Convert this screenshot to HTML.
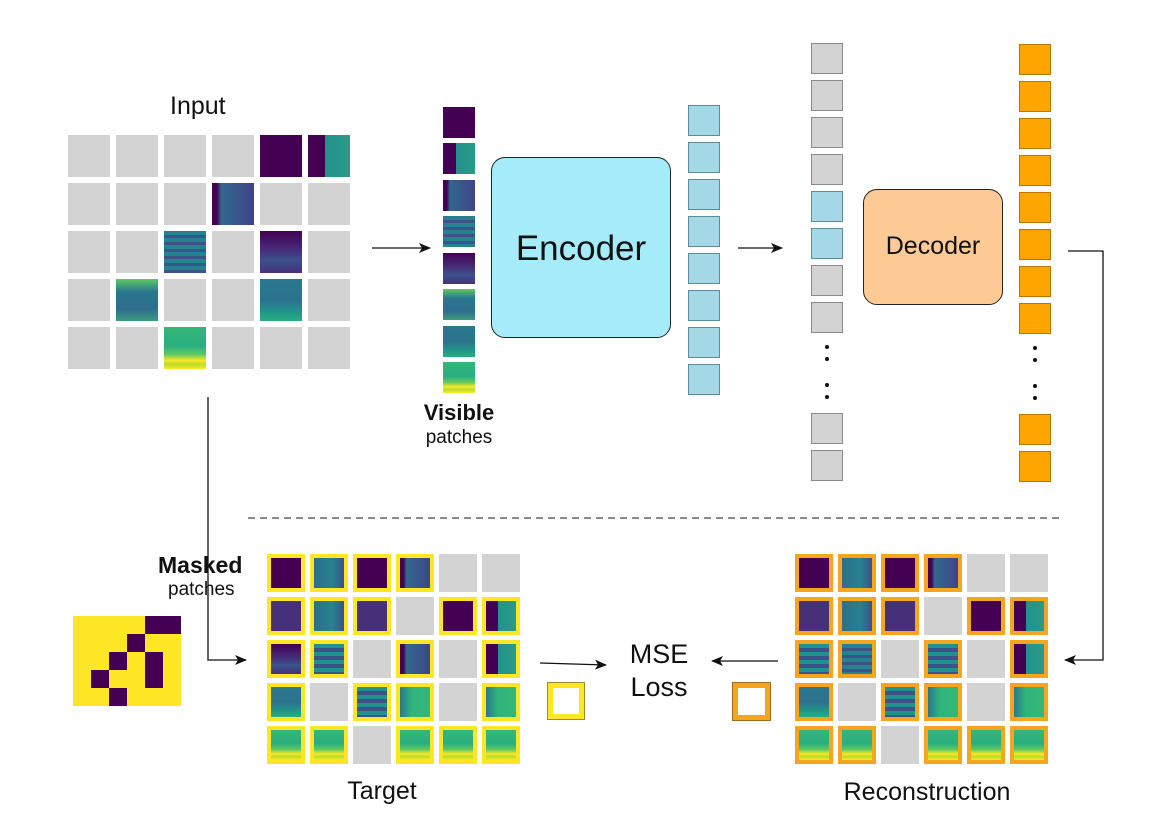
<!DOCTYPE html>
<html><head><meta charset="utf-8"><style>
body{margin:0;background:#fff;width:1168px;height:836px;position:relative;overflow:hidden;font-family:"Liberation Sans",Arial,sans-serif;color:#111}
.a{position:absolute;box-sizing:border-box}
.g{background:#d3d3d3}
.p1{background:#440154}
.p2{background:linear-gradient(90deg,#440154 0 40%,#23928b 40%,#2a9a88)}
.p3{background:linear-gradient(90deg,#440154 0 12%,#31688e 22%,#3b528b 70%,#414487)}
.p4{background:repeating-linear-gradient(#26828e 0 4px,#3b528b 4px 7px)}
.p5{background:linear-gradient(#440154,#46327e 50%,#3b528b 70%,#46307a)}
.p6{background:linear-gradient(#5ec962,#2a788e 30%,#2f6c8e 70%,#3a9c7f)}
.p7{background:linear-gradient(#2a788e,#2c728e 50%,#21918c 75%,#27ad81)}
.p8{background:linear-gradient(#35b779,#28ae80 45%,#5ec962 65%,#fde725 80%,#b5de2b 88%,#fde725)}
.pb{background:#46307a}
.pt{background:linear-gradient(90deg,#2f6c8e,#26828e 60%,#3b528b)}
.ps{background:repeating-linear-gradient(#21918c 0 4px,#3b528b 4px 8px)}
.pg{background:linear-gradient(90deg,#2a788e,#2fb47c 40%,#35b779)}
.y{border:4px solid #fde725}
.o{border:4px solid #f5a51e}
.c{width:42px;height:42px}
.t{width:38px;height:38px}
.v{width:32px;height:31px;left:443px}
.e{width:32px;height:31px;left:688px;background:#a5d8e6;border:1px solid #5b8c9a}
.d{width:32px;height:31px;left:811px;background:#d3d3d3;border:1px solid #8a8a8a}
.db{background:#a5d8e6;border-color:#5b8c9a}
.r{width:32px;height:31px;left:1019px;background:#ffa500;border:1px solid #b87800}
.dot{position:absolute;width:4px;height:4px;border-radius:2px;background:#111}
.txt{position:absolute;white-space:nowrap}
</style></head><body>

<!-- Input -->
<div class="txt" style="left:170px;top:92px;font-size:25px">Input</div>
<div class="a c g" style="left:68px;top:135px"></div><div class="a c g" style="left:116px;top:135px"></div><div class="a c g" style="left:164px;top:135px"></div><div class="a c g" style="left:212px;top:135px"></div><div class="a c p1" style="left:260px;top:135px"></div><div class="a c p2" style="left:308px;top:135px"></div>
<div class="a c g" style="left:68px;top:183px"></div><div class="a c g" style="left:116px;top:183px"></div><div class="a c g" style="left:164px;top:183px"></div><div class="a c p3" style="left:212px;top:183px"></div><div class="a c g" style="left:260px;top:183px"></div><div class="a c g" style="left:308px;top:183px"></div>
<div class="a c g" style="left:68px;top:231px"></div><div class="a c g" style="left:116px;top:231px"></div><div class="a c p4" style="left:164px;top:231px"></div><div class="a c g" style="left:212px;top:231px"></div><div class="a c p5" style="left:260px;top:231px"></div><div class="a c g" style="left:308px;top:231px"></div>
<div class="a c g" style="left:68px;top:279px"></div><div class="a c p6" style="left:116px;top:279px"></div><div class="a c g" style="left:164px;top:279px"></div><div class="a c g" style="left:212px;top:279px"></div><div class="a c p7" style="left:260px;top:279px"></div><div class="a c g" style="left:308px;top:279px"></div>
<div class="a c g" style="left:68px;top:327px"></div><div class="a c g" style="left:116px;top:327px"></div><div class="a c p8" style="left:164px;top:327px"></div><div class="a c g" style="left:212px;top:327px"></div><div class="a c g" style="left:260px;top:327px"></div><div class="a c g" style="left:308px;top:327px"></div>

<!-- Visible patches -->
<div class="a v p1" style="top:107px"></div>
<div class="a v p2" style="top:143px"></div>
<div class="a v p3" style="top:180px"></div>
<div class="a v p4" style="top:216px"></div>
<div class="a v p5" style="top:253px"></div>
<div class="a v p6" style="top:289px"></div>
<div class="a v p7" style="top:326px"></div>
<div class="a v p8" style="top:362px"></div>
<div class="txt" style="left:459px;top:400px;transform:translateX(-50%);font-size:22px;font-weight:bold">Visible</div>
<div class="txt" style="left:459px;top:427px;transform:translateX(-50%);font-size:19px">patches</div>

<!-- Encoder -->
<div class="a" style="left:491px;top:157px;width:180px;height:181px;background:#a6ebf9;border:1.5px solid #222;border-radius:14px"></div>
<div class="txt" style="left:581px;top:229px;transform:translateX(-50%);font-size:35px">Encoder</div>
<div class="a e" style="top:105px"></div><div class="a e" style="top:142px"></div><div class="a e" style="top:179px"></div><div class="a e" style="top:216px"></div><div class="a e" style="top:253px"></div><div class="a e" style="top:290px"></div><div class="a e" style="top:327px"></div><div class="a e" style="top:364px"></div>

<!-- Decoder tokens -->
<div class="a d" style="top:43px"></div><div class="a d" style="top:80px"></div><div class="a d" style="top:117px"></div><div class="a d" style="top:154px"></div><div class="a d db" style="top:191px"></div><div class="a d db" style="top:228px"></div><div class="a d" style="top:265px"></div><div class="a d" style="top:302px"></div><div class="a d" style="top:413px"></div><div class="a d" style="top:450px"></div>
<div class="dot" style="left:825px;top:345px"></div><div class="dot" style="left:825px;top:357px"></div><div class="dot" style="left:825px;top:383px"></div><div class="dot" style="left:825px;top:395px"></div>
<div class="a" style="left:863px;top:189px;width:140px;height:116px;background:#fdc994;border:1.5px solid #222;border-radius:14px"></div>
<div class="txt" style="left:933px;top:232px;transform:translateX(-50%);font-size:25px">Decoder</div>
<div class="a r" style="top:44px"></div><div class="a r" style="top:81px"></div><div class="a r" style="top:118px"></div><div class="a r" style="top:155px"></div><div class="a r" style="top:192px"></div><div class="a r" style="top:229px"></div><div class="a r" style="top:266px"></div><div class="a r" style="top:303px"></div><div class="a r" style="top:414px"></div><div class="a r" style="top:451px"></div>
<div class="dot" style="left:1033px;top:346px"></div><div class="dot" style="left:1033px;top:358px"></div><div class="dot" style="left:1033px;top:384px"></div><div class="dot" style="left:1033px;top:396px"></div>

<!-- Lines -->
<svg class="a" style="left:0;top:0" width="1168" height="836">
<defs><marker id="ar" markerWidth="12" markerHeight="10" refX="11" refY="5" orient="auto" markerUnits="userSpaceOnUse"><path d="M0,0 L12,5 L0,10 L3,5 z" fill="#111"/></marker></defs>
<g stroke="#111" stroke-width="1.3" fill="none">
<line x1="372" y1="248" x2="430" y2="248" marker-end="url(#ar)"/>
<line x1="738" y1="248" x2="782" y2="248" marker-end="url(#ar)"/>
<polyline points="1068,251 1103,251 1103,660 1065,660" marker-end="url(#ar)"/>
<polyline points="208,397 208,660 246,660" marker-end="url(#ar)"/>
<line x1="540" y1="663" x2="606" y2="665" marker-end="url(#ar)"/>
<line x1="778" y1="661" x2="712" y2="661" marker-end="url(#ar)"/>
<line x1="248" y1="518" x2="1062" y2="518" stroke-dasharray="7,5" stroke="#444"/>
</g></svg>

<!-- Masked -->
<div class="txt" style="left:158px;top:552px;font-size:23px;font-weight:bold">Masked</div>
<div class="txt" style="left:168px;top:579px;font-size:19px">patches</div>
<svg class="a" style="left:73px;top:616px" width="108" height="90">
<rect width="108" height="90" fill="#fde725"/>
<g fill="#440154">
<rect x="72" y="0" width="36" height="18"/><rect x="54" y="18" width="18" height="18"/>
<rect x="36" y="36" width="18" height="18"/><rect x="72" y="36" width="18" height="36"/>
<rect x="18" y="54" width="18" height="18"/><rect x="36" y="72" width="18" height="18"/>
</g></svg>

<!-- Target -->
<div class="a t y p1" style="left:267px;top:554px"></div><div class="a t y pt" style="left:310px;top:554px"></div><div class="a t y p1" style="left:353px;top:554px"></div><div class="a t y p3" style="left:396px;top:554px"></div><div class="a t g" style="left:439px;top:554px"></div><div class="a t g" style="left:482px;top:554px"></div>
<div class="a t y pb" style="left:267px;top:597px"></div><div class="a t y pt" style="left:310px;top:597px"></div><div class="a t y pb" style="left:353px;top:597px"></div><div class="a t g" style="left:396px;top:597px"></div><div class="a t y p1" style="left:439px;top:597px"></div><div class="a t y p2" style="left:482px;top:597px"></div>
<div class="a t y p5" style="left:267px;top:640px"></div><div class="a t y ps" style="left:310px;top:640px"></div><div class="a t g" style="left:353px;top:640px"></div><div class="a t y p3" style="left:396px;top:640px"></div><div class="a t g" style="left:439px;top:640px"></div><div class="a t y p2" style="left:482px;top:640px"></div>
<div class="a t y p7" style="left:267px;top:683px"></div><div class="a t g" style="left:310px;top:683px"></div><div class="a t y ps" style="left:353px;top:683px"></div><div class="a t y pg" style="left:396px;top:683px"></div><div class="a t g" style="left:439px;top:683px"></div><div class="a t y pg" style="left:482px;top:683px"></div>
<div class="a t y p8" style="left:267px;top:726px"></div><div class="a t y p8" style="left:310px;top:726px"></div><div class="a t g" style="left:353px;top:726px"></div><div class="a t y p8" style="left:396px;top:726px"></div><div class="a t y p8" style="left:439px;top:726px"></div><div class="a t y p8" style="left:482px;top:726px"></div>
<div class="txt" style="left:382px;top:777px;transform:translateX(-50%);font-size:25px">Target</div>

<!-- MSE -->
<div class="txt" style="left:659px;top:638px;transform:translateX(-50%);font-size:27px;text-align:center;line-height:33px">MSE<br>Loss</div>
<div class="a" style="left:548px;top:683px;width:36px;height:36px;border:5px solid #fde725;outline:1px solid #9a8a30"></div>
<div class="a" style="left:733px;top:683px;width:37px;height:37px;border:5px solid #f5a51e;outline:1px solid #a06a20"></div>

<!-- Reconstruction -->
<div class="a t o p1" style="left:795px;top:554px"></div><div class="a t o pt" style="left:838px;top:554px"></div><div class="a t o p1" style="left:881px;top:554px"></div><div class="a t o p3" style="left:924px;top:554px"></div><div class="a t g" style="left:967px;top:554px"></div><div class="a t g" style="left:1010px;top:554px"></div>
<div class="a t o pb" style="left:795px;top:597px"></div><div class="a t o pt" style="left:838px;top:597px"></div><div class="a t o pb" style="left:881px;top:597px"></div><div class="a t g" style="left:924px;top:597px"></div><div class="a t o p1" style="left:967px;top:597px"></div><div class="a t o p2" style="left:1010px;top:597px"></div>
<div class="a t o ps" style="left:795px;top:640px"></div><div class="a t o p4" style="left:838px;top:640px"></div><div class="a t g" style="left:881px;top:640px"></div><div class="a t o ps" style="left:924px;top:640px"></div><div class="a t g" style="left:967px;top:640px"></div><div class="a t o p2" style="left:1010px;top:640px"></div>
<div class="a t o p7" style="left:795px;top:683px"></div><div class="a t g" style="left:838px;top:683px"></div><div class="a t o ps" style="left:881px;top:683px"></div><div class="a t o pg" style="left:924px;top:683px"></div><div class="a t g" style="left:967px;top:683px"></div><div class="a t o pg" style="left:1010px;top:683px"></div>
<div class="a t o p8" style="left:795px;top:726px"></div><div class="a t o p8" style="left:838px;top:726px"></div><div class="a t g" style="left:881px;top:726px"></div><div class="a t o p8" style="left:924px;top:726px"></div><div class="a t o p8" style="left:967px;top:726px"></div><div class="a t o p8" style="left:1010px;top:726px"></div>
<div class="txt" style="left:927px;top:778px;transform:translateX(-50%);font-size:25px">Reconstruction</div>
</body></html>
